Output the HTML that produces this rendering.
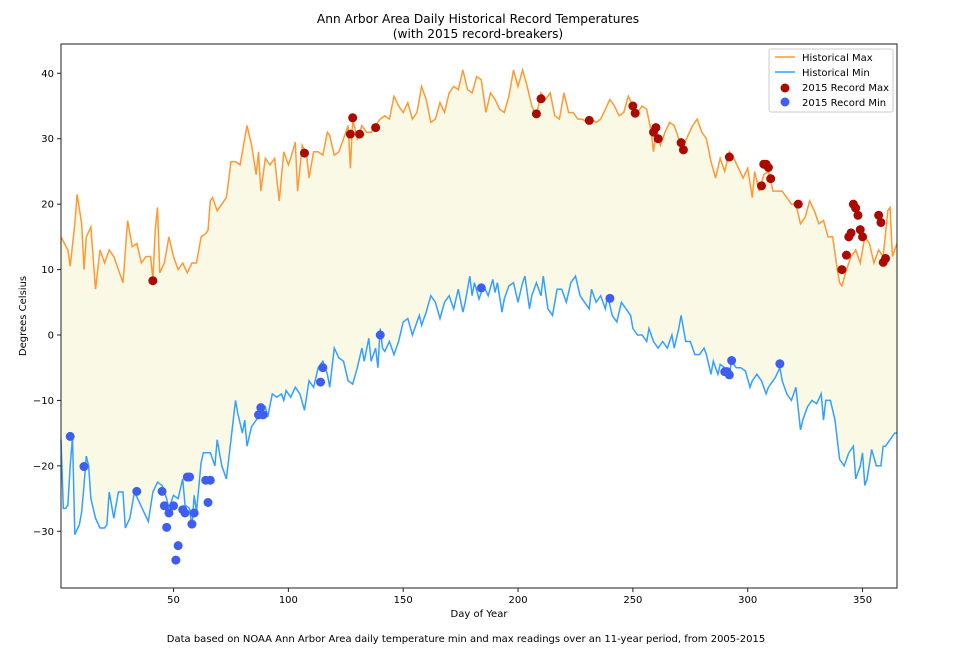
<!DOCTYPE html>
<html><head><meta charset="utf-8"><style>
body{margin:0;background:#fff;font-family:"Liberation Sans","DejaVu Sans",sans-serif;}
svg text{font-family:"DejaVu Sans","Liberation Sans",sans-serif;}
</style></head><body>
<svg id="chart" width="959" height="660" xmlns="http://www.w3.org/2000/svg">
<rect width="959" height="660" fill="#fff"/>
<text x="478" y="23" text-anchor="middle" font-size="12.2">Ann Arbor Area Daily Historical Record Temperatures</text>
<text x="478" y="38" text-anchor="middle" font-size="12.2">(with 2015 record-breakers)</text>
<g id="plot"></g>
<text x="479" y="617" text-anchor="middle" font-size="10">Day of Year</text>
<text transform="translate(26,316) rotate(-90)" text-anchor="middle" font-size="10">Degrees Celsius</text>
<text x="466" y="642" text-anchor="middle" font-size="10">Data based on NOAA Ann Arbor Area daily temperature min and max readings over an 11-year period, from 2005-2015</text>
<g>
<rect x="769" y="49" width="124" height="63" fill="#fff" stroke="#ccc" rx="2"/>
<line x1="775" y1="57" x2="795" y2="57" stroke="#ff9933" stroke-width="1.5"/>
<text x="802" y="61" font-size="10">Historical Max</text>
<line x1="775" y1="72" x2="795" y2="72" stroke="#33a0ff" stroke-width="1.5"/>
<text x="802" y="76" font-size="10">Historical Min</text>
<circle cx="785" cy="88" r="4.5" fill="#aa0a00"/>
<text x="802" y="91" font-size="10">2015 Record Max</text>
<circle cx="785" cy="102" r="4.5" fill="#3d5ef0"/>
<text x="802" y="106" font-size="10">2015 Record Min</text>
</g>
</svg>
<script>
const maxDays=[1,4,5,7,8,10,11,12,14,16,18,20,22,24,26,28,30,32,34,36,38,40,41,42,43,44,46,48,50,52,54,56,58,60,62,64,65,66,67,69,71,73,75,77,79,81,82,84,86,87,88,90,92,94,96,98,100,101,103,104,106,108,109,111,113,115,117,118,120,122,124,126,127,128,130,132,134,136,138,140,142,144,146,148,150,152,154,156,158,160,162,164,166,168,170,172,174,176,178,180,182,184,186,188,190,192,194,196,198,200,202,204,206,208,210,212,214,216,218,220,222,224,226,228,230,232,234,236,238,240,242,244,246,248,250,252,254,256,258,259,260,262,264,266,268,270,272,274,276,278,280,282,284,286,288,290,292,294,296,298,300,302,303,305,307,309,311,313,315,317,319,321,323,325,327,329,331,333,335,337,339,340,341,343,345,347,349,351,353,355,357,359,361,362,363,365];
const maxVals=[15,13,10.5,17,21.5,17,10,15,16.5,7,13,11,13,12,10,8,17.5,13.5,14,11,12,12,8.5,16,19.5,9.5,11,15,12,10,11,9.5,11,11,15,15.5,16,20.5,21,19,20,21,26.5,26.5,26,30,32,29,24.5,28,22,27,26,27,20.5,28,26,27,29.5,22,29,27.5,24,28,28,27.5,31,30.5,27.5,28,30,32,25.5,33,30,32,31,31,32,33,33.5,33,36.5,35,34,35.5,33,34,38,36,32.5,33,35.5,34,37,38,37.5,40.5,37.5,37,39.5,39,34,37,36,34.5,34,36.5,40.5,38,40.5,38,35,33.5,37,36,37,33.5,33,37,34,34,33,33,32.5,33,32.5,33,34.5,36,35,33.5,34,36.5,35,34,35,34.5,31,28,31,29,31,32.5,32,30,29,30.5,32,33,31,30,26.5,24,27,25,28,27,25.5,24,25.5,21,25,22,24.5,25,22,22,22,21,20,20,17,18,20.5,19,17,17.5,15,15,10,8,7.5,10,12,13,11,15,14,11,13,12,19,19.5,12,14];
const minDays=[1,2,3,4,5,6,7,9,10,11,12,13,14,16,18,20,21,22,24,26,28,29,31,33,35,37,39,41,43,45,47,48,50,52,54,55,57,58,59,60,62,63,64,66,68,69,71,73,75,77,78,80,81,82,84,86,88,90,91,93,95,97,98,99,101,103,105,107,109,111,113,115,117,118,120,122,124,126,128,130,132,133,135,136,138,139,140,141,142,144,146,148,150,152,154,155,157,158,160,162,164,166,168,170,172,174,176,177,178,179,180,181,183,185,187,189,190,191,193,194,196,198,200,202,203,205,206,208,210,211,213,215,217,219,221,223,225,227,229,231,232,234,236,238,239,241,243,245,247,249,250,252,254,256,257,259,261,263,265,267,268,270,271,273,275,277,279,281,282,284,285,287,288,290,292,293,295,297,299,301,302,304,306,308,309,311,312,314,315,317,319,321,323,324,326,328,330,332,333,334,336,338,340,342,344,346,347,349,350,351,352,354,356,358,359,360,362,364,365];
const minVals=[-16,-26.5,-26.5,-26,-20,-15.5,-30.5,-29,-27,-23,-18.5,-20,-25,-28,-29.5,-29.5,-29,-24,-28,-24,-24,-29.5,-28,-24,-25.5,-27,-28.5,-24,-22.5,-23,-25,-26.5,-24.5,-25,-22,-26,-26.5,-29.5,-24.5,-27,-19.5,-18,-18,-18,-20,-16,-20,-22,-16,-10,-12,-15,-13,-17,-14,-13,-12,-11,-12.5,-9,-9.5,-9,-10,-8.5,-9.5,-8,-9,-11.5,-7,-8,-5,-4,-6,-8,-2,-3.5,-4,-7,-7.5,-5,-2,-4,-0.5,-4,-2,-5,1,-2,-2.5,-1,-3,-1,2,2.5,0,1,3,1.5,3.5,6,5,2.5,5,6,4,7,3.5,5,7,9,6,8,5.5,7.5,6,8.5,6.5,8,3.5,5.5,7.5,8,5,8,9,4,6,8,6,9,4,3,7,7,5,8,9,6,5,4,7,5,6,4,6,3,2,5,4,3,1,0,0,-1,1,-1,-2,-1,-2,0,-2,1,3,-1,-1,-3,-3,-2,-3,-6,-4,-6,-4.5,-5,-6,-4,-5,-5,-5.5,-8,-7,-6,-7,-9,-8,-7,-6.5,-5,-7,-9,-10,-8,-14.5,-13,-11,-10,-10.5,-9,-13,-10,-10,-13,-19,-20,-18,-17,-22,-20,-18,-23,-22,-17.5,-20,-20,-17,-17,-16,-15,-15];
const recMaxDays=[41,107,127,128,131,138,208,210,231,250,251,259,260,261,271,272,292,306,307,308,309,310,322,341,343,344,345,346,347,348,349,350,357,358,359,360];
const recMaxVals=[8.3,27.8,30.7,33.2,30.7,31.7,33.8,36.1,32.8,35,33.9,31,31.7,30,29.4,28.3,27.2,22.8,26.1,26.1,25.6,23.9,20,10,12.2,15,15.6,20,19.4,18.3,16.1,15,18.3,17.2,11.1,11.7];
const recMinDays=[5,11,34,45,46,47,48,50,51,52,54,55,56,57,58,59,64,65,66,87,88,89,114,115,140,184,240,290,291,292,293,314];
const recMinVals=[-15.5,-20.1,-23.9,-23.9,-26.1,-29.4,-27.2,-26.1,-34.4,-32.2,-26.7,-27.2,-21.7,-21.7,-28.9,-27.2,-22.2,-25.6,-22.2,-12.2,-11.1,-12.2,-7.2,-5,0,7.2,5.6,-5.6,-5.6,-6.1,-3.9,-4.4];
const xTicks=[50,100,150,200,250,300,350];
const yTicks=[-30,-20,-10,0,10,20,30,40];

const L=61,R=897,T=44,B=588;
const X=d=>L+(d-1)*(R-L)/364;
const Y=v=>335-v*6.543;
const NS='http://www.w3.org/2000/svg';
const g=document.getElementById('plot');
function mk(t,a){const e=document.createElementNS(NS,t);for(const k in a)e.setAttribute(k,a[k]);g.appendChild(e);return e;}
let maxPts=maxDays.map((d,i)=>X(d).toFixed(1)+','+Y(maxVals[i]).toFixed(1));
let minPts=minDays.map((d,i)=>X(d).toFixed(1)+','+Y(minVals[i]).toFixed(1)).reverse();
const fill=mk('polygon',{points:maxPts.concat(minPts).join(' '),fill:'#f9f9e6'});


const lmax=mk('polyline',{points:maxPts.join(' '),fill:'none',stroke:'#ff9933','stroke-width':1.5});


const lmin=mk('polyline',{points:minPts.slice().reverse().join(' '),fill:'none',stroke:'#33a0ff','stroke-width':1.5});


recMaxDays.forEach((d,i)=>{const c=mk('circle',{cx:X(d),cy:Y(recMaxVals[i]),r:4.5,fill:'#aa0a00'});

});
recMinDays.forEach((d,i)=>{const c=mk('circle',{cx:X(d),cy:Y(recMinVals[i]),r:4.5,fill:'#3d5ef0'});

});
const frame=mk('rect',{x:L,y:T,width:R-L,height:B-T,fill:'none',stroke:'#222','stroke-width':1});


xTicks.forEach(t=>{mk('line',{x1:X(t),x2:X(t),y1:B,y2:B+4,stroke:'#222'});
const tx=mk('text',{x:X(t),y:B+15,'text-anchor':'middle','font-size':10});tx.textContent=t;

});
yTicks.forEach(t=>{mk('line',{x1:L-4,x2:L,y1:Y(t),y2:Y(t),stroke:'#222'});
const tx=mk('text',{x:L-7,y:Y(t)+3.5,'text-anchor':'end','font-size':10});tx.textContent=(t<0?'\u2212'+(-t):t);

});
</script>
</body></html>
